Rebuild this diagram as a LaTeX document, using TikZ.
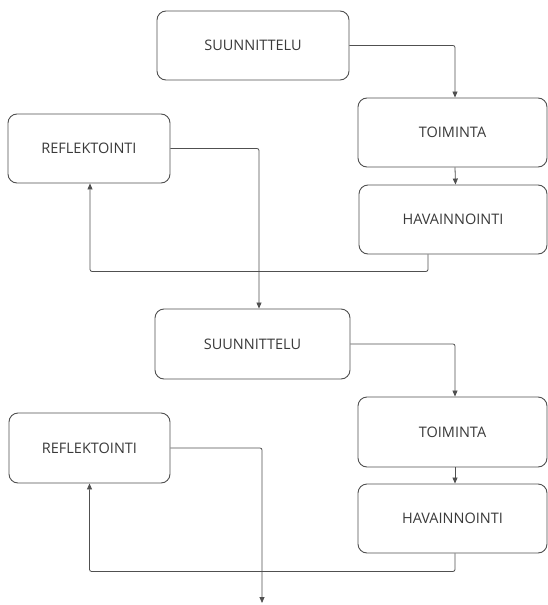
\documentclass[tikz,border=0pt]{standalone}
\usepackage{fontspec}
\setmainfont{Open Sans}
\usetikzlibrary{arrows.meta,calc}
\definecolor{edgegray}{HTML}{505050}
\definecolor{txtgray}{HTML}{3A3A3A}
\tikzset{
  stagebox/.style={draw=edgegray, line width=0.9pt, rounded corners=9pt, fill=white,
    text=txtgray, font=\fontsize{14.5}{16}\selectfont, inner sep=0pt},
  flow/.style={draw=edgegray, line width=0.8pt, rounded corners=2pt,
    -{Triangle[length=6pt,width=5pt]}}
}
\begin{document}
\begin{tikzpicture}[x=1pt,y=-1pt]
\useasboundingbox (0,0) rectangle (548,605);
% first cycle
\node[stagebox, minimum width=192pt, minimum height=69pt] (S1) at (253,45.5) {SUUNNITTELU};
\node[stagebox, minimum width=189pt, minimum height=69pt] (T1) at (452.5,132.5) {TOIMINTA};
\node[stagebox, minimum width=188pt, minimum height=69pt] (H1) at (453,219.5) {HAVAINNOINTI};
\node[stagebox, minimum width=162pt, minimum height=69pt] (R1) at (89,148.5) {REFLEKTOINTI};
% second cycle
\node[stagebox, minimum width=195pt, minimum height=70pt] (S2) at (252.5,344) {SUUNNITTELU};
\node[stagebox, minimum width=189pt, minimum height=70pt] (T2) at (452.5,432) {TOIMINTA};
\node[stagebox, minimum width=189pt, minimum height=69pt] (H2) at (452.5,518.5) {HAVAINNOINTI};
\node[stagebox, minimum width=161pt, minimum height=70pt] (R2) at (89.5,448) {REFLEKTOINTI};
\coordinate (end) at (262,603);
% connectors
\draw[flow] (S1.east) -| ([xshift=2.5pt]T1.north);
\draw[flow] ([xshift=2.5pt]T1.south) -- ([xshift=2.5pt]H1.north);
\draw[flow] ([xshift=-25pt]H1.south) -- ++(0,17) -| ([xshift=1pt]R1.south);
\draw[flow] (R1.east) -| ([xshift=6.5pt]S2.north);
\draw[flow] (S2.east) -| ([xshift=2.5pt]T2.north);
\draw[flow] ([xshift=2.5pt]T2.south) -- ([xshift=2.5pt]H2.north);
\draw[flow] ([xshift=2.5pt]H2.south) -- ++(0,18) -| (R2.south);
\draw[flow] (R2.east) -| (end);
\end{tikzpicture}
\end{document}
